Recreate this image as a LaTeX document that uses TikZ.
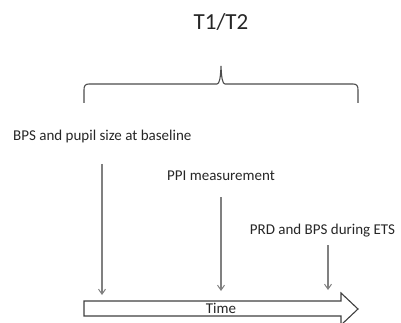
\documentclass[tikz,border=0pt]{standalone}
\usepackage{fontspec}
\setmainfont{Carlito}
\usetikzlibrary{arrows.meta}
\begin{document}
\begin{tikzpicture}[x=1pt,y=-1pt,
  lbl/.style={font=\fontsize{15}{17}\selectfont, text=black!85, inner sep=0pt},
  ttl/.style={font=\fontsize{23}{26}\selectfont, text=black!85, inner sep=0pt},
  marker/.style={draw=black!50, line width=1.1pt, -{Straight Barb[length=5pt,width=7pt,line width=1pt]}},
  bracepath/.style={draw=black!70, line width=1.1pt},
  blockarrow/.style={draw=black!75, line width=1.1pt, fill=white}]
\useasboundingbox (0,0) rectangle (401,323);
% title
\node[ttl] (title) at (221,22) {T1/T2};
% brace
\draw[bracepath] (84,103) -- (84,90) .. controls (84,86) and (85,84) .. (89,84)
  -- (217,84) .. controls (219.5,84) and (220.5,78) .. (221,66)
  .. controls (221.5,78) and (222.5,84) .. (225,84)
  -- (353,84) .. controls (357,84) and (358,86) .. (358,90) -- (358,103);
% labels
\node[lbl, anchor=west] (bps) at (13,137) {BPS and pupil size at baseline};
\node[lbl] (ppi) at (221,176) {PPI measurement};
\node[lbl] (prd) at (322.5,231) {PRD and BPS during ETS};
% block arrow
\draw[blockarrow] (84,301) -- (341,301) -- (341,293) -- (358,309) -- (341,325) -- (341,316) -- (84,316) -- cycle;
\node[lbl] (time) at (221,308.5) {Time};
% marker arrows
\coordinate (s1) at (102,164);
\coordinate (e1) at (102,295);
\coordinate (s2) at (221,197);
\coordinate (e2) at (221,291);
\coordinate (s3) at (328,245);
\coordinate (e3) at (328,290);
\draw[marker] (s1) -- (e1);
\draw[marker] (s2) -- (e2);
\draw[marker] (s3) -- (e3);
\end{tikzpicture}
\end{document}
